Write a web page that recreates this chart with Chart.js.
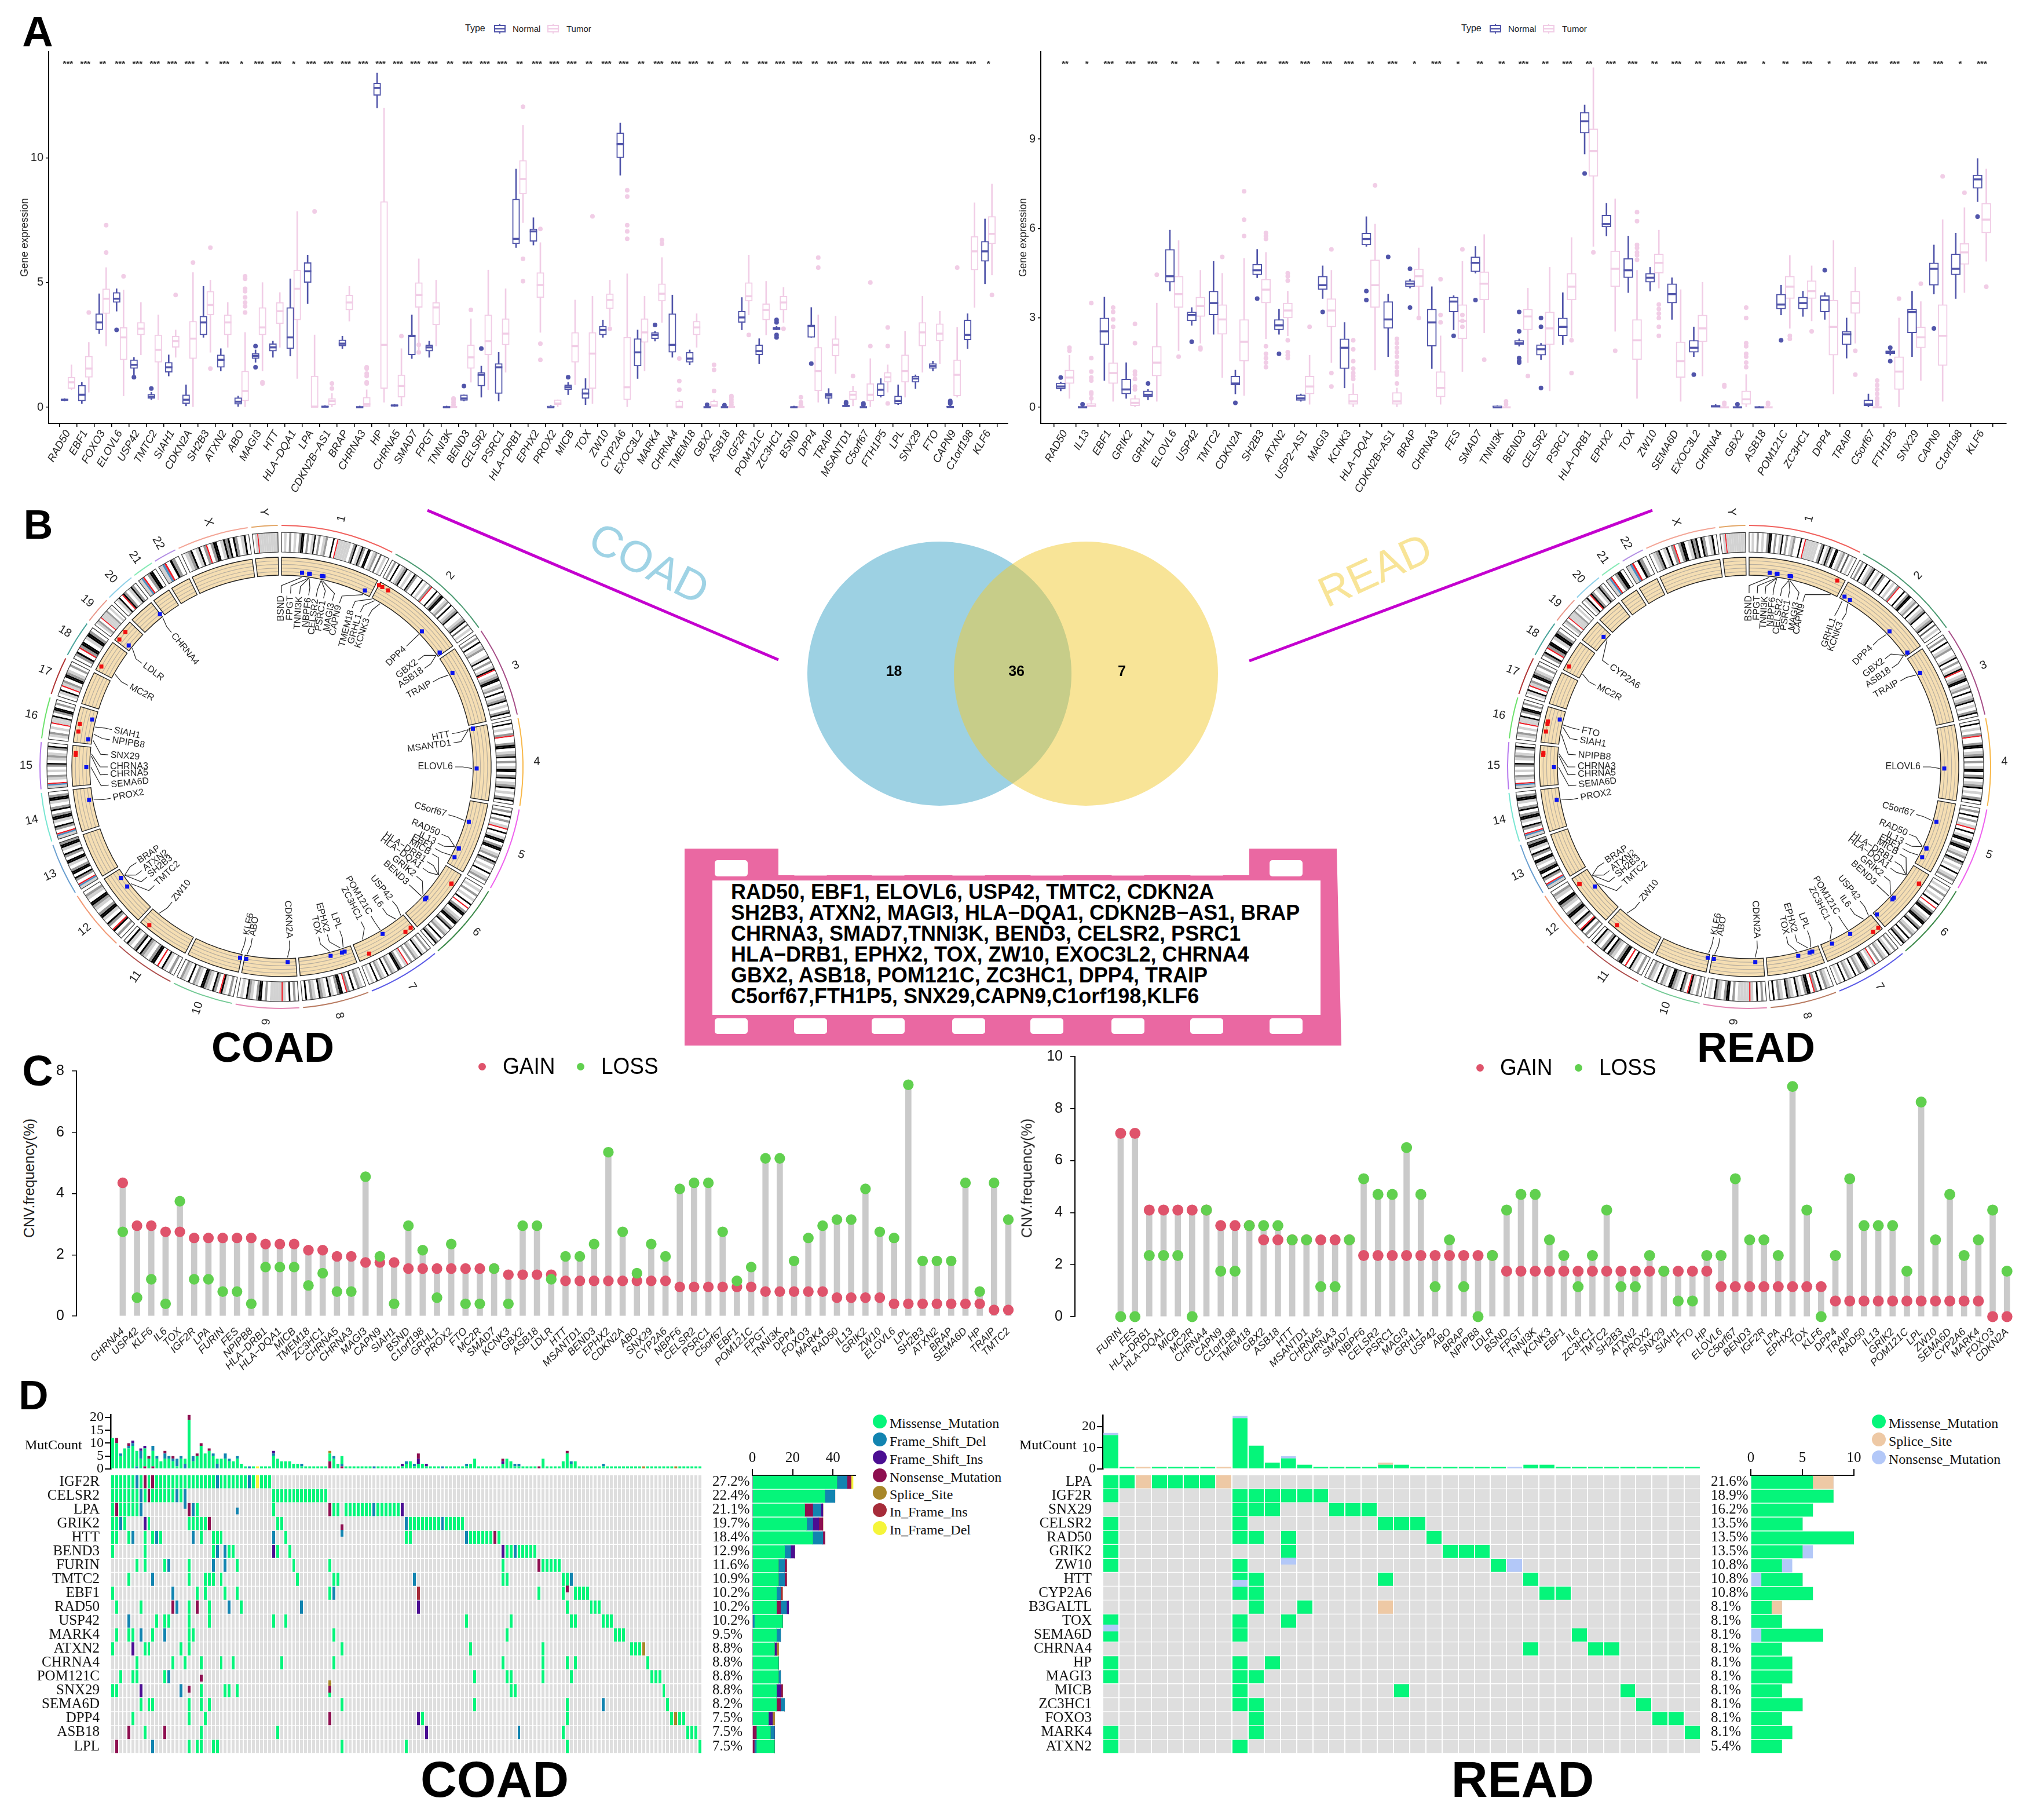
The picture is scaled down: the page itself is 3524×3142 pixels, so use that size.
<!DOCTYPE html>
<html><head><meta charset="utf-8">
<style>
html,body{margin:0;padding:0;background:#fff;}
#page{position:relative;width:3524px;height:3142px;overflow:hidden;background:#fff;}
canvas{position:absolute;}
.t{position:absolute;white-space:pre;line-height:1;}
svg{position:absolute;left:0;top:0;}
</style>
<script src="https://cdn.jsdelivr.net/npm/chart.js@4"></script>
</head><body><div id="page">
<svg width="3524" height="3142" id="deco"></svg>
</div>
<script>
/* ---------- PANEL A DATA : [low, q1, median, q3, high] ---------- */
const coadGenes=['RAD50','EBF1','FOXO3','ELOVL6','USP42','TMTC2','SIAH1','CDKN2A','SH2B3','ATXN2','ABO','MAGI3','HTT','HLA−DQA1','LPA','CDKN2B−AS1','BRAP','CHRNA3','HP','CHRNA5','SMAD7','FPGT','TNNI3K','BEND3','CELSR2','PSRC1','HLA−DRB1','EPHX2','PROX2','MICB','TOX','ZW10','CYP2A6','EXOC3L2','MARK4','CHRNA4','TMEM18','GBX2','ASB18','IGF2R','POM121C','ZC3HC1','BSND','DPP4','TRAIP','MSANTD1','C5orf67','FTH1P5','LPL','SNX29','FTO','CAPN9','C1orf198','KLF6'];
const coadStars=['***','***','**','***','***','***','***','***','*','***','*','***','***','*','***','***','***','***','***','***','***','***','**','***','***','***','**','***','***','***','**','***','***','**','***','***','***','**','**','**','***','***','***','**','***','***','***','***','***','***','***','***','***','*'];
const coadNormal=[[.25,.27,.3,.33,.35],[.15,.25,.5,.88,1],[2.95,3.1,3.4,3.75,4.55],[3.85,4.2,4.35,4.6,4.75],[1.3,1.55,1.7,1.9,2],[.3,.35,.42,.52,.6],[1.25,1.4,1.6,1.8,2.1],[.05,.15,.3,.5,.9],[2.8,2.9,3.4,3.65,4.85],[1.45,1.6,1.9,2.1,2.35],[.03,.12,.22,.38,.45],[1.8,1.95,2.05,2.15,2.3],[2,2.25,2.4,2.55,2.65],[2.05,2.35,2.8,4,5.15],[4.15,5,5.45,5.8,6.1],[0,0,.02,.05,.07],[2.35,2.45,2.55,2.7,2.85],[0,0,0,.03,.05],[12,12.5,12.8,13,13.4],[.03,.05,.07,.1,.12],[1.95,2.1,2.85,2.9,3.7],[2,2.25,2.4,2.5,2.65],[-.02,-.02,0,.03,.05],[.25,.27,.35,.5,.5],[.4,.85,1.3,1.4,1.65],[.25,.55,1.6,1.75,2.2],[6.4,6.55,6.75,8.35,9.55],[6.5,6.65,7.05,7.15,7.6],[0,0,0,.05,.07],[.5,.7,.8,.9,1],[.1,.35,.55,.75,1.15],[2.8,2.9,3.1,3.25,3.5],[9.3,10,10.55,11,11.4],[1.15,1.65,2.2,2.75,3.1],[2.65,2.75,2.9,3,3.05],[2,2.2,2.5,3.75,4.5],[1.7,1.8,1.95,2.2,2.3],[0,0,0,.02,.05],[-.02,0,0,.02,.05],[3.1,3.4,3.6,3.85,4.4],[1.75,2.1,2.25,2.5,2.75],[3.1,3.1,3.15,3.2,3.25],[-.02,-.02,0,.02,.05],[2.8,2.8,3.25,3.3,4],[.15,.35,.47,.55,.75],[0,.02,.05,.08,.1],[0,0,0,.02,.05],[.4,.45,.7,.95,1.15],[.1,.13,.25,.45,.9],[.75,1,1.15,1.25,1.3],[1.45,1.55,1.65,1.75,1.85],[0,0,.01,.04,.08],[2.35,2.7,2.9,3.5,3.75],[4.95,5.85,6.25,6.65,7.55]];
const coadTumor=[[.7,.75,1,1.2,1.7],[.6,1.2,1.55,2.05,2.6],[2.45,3.75,4.35,4.75,5.6],[.45,1.9,2.8,3.2,4.7],[2.1,2.9,3.15,3.4,4.2],[.3,1.8,2.3,2.9,3.7],[2,2.4,2.65,2.85,3.1],[0,1.95,2.75,3.45,5.4],[2.2,3.7,4.1,4.65,5.1],[2.4,2.9,3.4,3.7,4.2],[0,.25,.65,1.45,3],[1.45,2.9,3.2,4,5],[2.4,3.35,3.85,4.2,4.6],[1.15,3.5,4.75,5.5,7.85],[0,0,.02,1.25,2.9],[0,.1,.25,.35,.55],[3.45,3.9,4.2,4.5,4.85],[0,.03,.12,.4,.7],[.2,.75,2.5,8.25,12],[.05,.4,.85,1.3,2.35],[2.3,4,4.5,5,5.95],[2.45,3.3,4,4.2,5.1],[0,0,.01,.03,.06],[1,1.55,2,2.5,3.55],[.7,2.1,2.65,3.7,5.5],[1.4,2.5,2.95,3.55,4.75],[7.4,8.55,9.15,9.9,11.3],[3,4.4,4.9,5.4,6.6],[0,.1,.15,.3,.3],[.9,1.8,2.45,3,4.3],[.15,.75,2.15,3,4.45],[3.25,3.95,4.3,4.55,5.1],[0,.3,.8,2.8,5.35],[1.45,2.6,3,3.55,4.45],[3.4,4.25,4.55,4.95,6],[0,0,0,.25,.3],[2.4,2.9,3.2,3.45,3.75],[0,.02,.07,.25,.3],[0,0,.01,.03,.05],[3.7,4.25,4.45,5,6.1],[2.9,3.5,3.9,4.15,5.05],[3.4,3.9,4.2,4.45,4.8],[0,0,.01,.03,.05],[.2,.65,1.45,2.4,3.7],[1.35,2.05,2.5,2.75,3.65],[.05,.3,.5,.65,.85],[0,.25,.5,.95,1.95],[.6,1,1.2,1.4,1.7],[.4,1,1.45,2.1,3.05],[1.4,2.45,3,3.4,4.45],[1.75,2.65,2.95,3.35,3.85],[.4,.45,1.3,1.9,3.2],[4,5.5,6.25,6.85,8.2],[5.3,6.55,6.95,7.65,8.95]];
const coadNormalOut={3:[3.1],4:[1.2],5:[.75],11:[2.45,1.6],23:[.85],24:[2.35],29:[1.2],34:[3.3],37:[.1],38:[.08],41:[2.8,2.9,3.4,3.5],43:[1.75],45:[.15,.2],46:[.1,.15],51:[.15,.2,.25]};
const coadTumorOut={1:[3.8],2:[6.2,7.3],3:[5.25],6:[4.5],7:[5.8],8:[6.4,1.55],10:[3.8,4.05,4.2,4.4,4.65,4.75,5.15,5.25],11:[.95,1],14:[7.85],15:[.75,.95],17:[.95,1,1.25,1.35,1.55,1.6],19:[2.85],20:[2.2,2.5],22:[.1,.2,.3,.35],23:[3.9],26:[12.05,5.95,5.05],27:[7.15,2.55,1.9],30:[7.65],31:[3.15],32:[6.75,7.05,7.3,8.45,8.7],34:[6.55,6.7],35:[.7,1.05,1.95],37:[.65,1.5,1.7],38:[.1,.2,.3,.4,.45],39:[2.9],41:[3.15],42:[.1,.2,.4],43:[5.6,6],45:[1.25],46:[2.45,5],47:[.15,2.45,3.2],51:[5.6],53:[4.5]};

const readGenes=['RAD50','IL13','EBF1','GRIK2','GRHL1','ELOVL6','USP42','TMTC2','CDKN2A','SH2B3','ATXN2','USP2−AS1','MAGI3','KCNK3','HLA−DQA1','CDKN2B−AS1','BRAP','CHRNA3','FES','SMAD7','TNNI3K','BEND3','CELSR2','PSRC1','HLA−DRB1','EPHX2','TOX','ZW10','SEMA6D','EXOC3L2','CHRNA4','GBX2','ASB18','POM121C','ZC3HC1','DPP4','TRAIP','C5orf67','FTH1P5','SNX29','CAPN9','C1orf198','KLF6'];
const readStars=['**','*','***','***','***','**','**','*','***','***','***','***','***','***','**','***','*','***','*','**','**','***','**','***','**','***','***','**','***','**','***','***','*','**','***','*','***','***','***','**','***','*','***'];
const readNormal=[[.55,.62,.7,.82,.85],[0,0,0,.03,.05],[.9,2.1,2.55,3,3.7],[.3,.45,.6,.95,1.5],[.25,.35,.42,.55,.6],[3.9,4.2,4.4,5.3,5.95],[2.75,2.9,3.1,3.2,3.35],[2.45,3.1,3.5,3.9,4.9],[.45,.75,.8,1.05,1.25],[4.35,4.45,4.6,4.8,5.3],[2.45,2.6,2.75,2.95,3.3],[.2,.23,.3,.42,.45],[3.65,3.95,4.1,4.4,4.75],[.65,1.3,2,2.3,2.85],[5.4,5.45,5.65,5.85,6.4],[1.7,2.65,2.95,3.55,3.8],[4,4.05,4.15,4.25,4.3],[1.3,2.05,2.85,3.3,4.05],[2.6,3.2,3.55,3.7,3.75],[4.5,4.55,4.85,5.05,5.4],[0,0,0,.05,.06],[2.05,2.1,2.15,2.25,2.3],[1.6,1.75,1.95,2.1,2.15],[2.1,2.4,2.7,3,3.85],[8.5,9.2,9.6,9.9,10.15],[5.75,6.05,6.15,6.45,6.85],[3.85,4.35,4.6,5,5.75],[3.9,4.2,4.35,4.5,4.7],[2.95,3.5,3.8,4.15,4.35],[1.7,1.85,2,2.25,2.7],[0,.02,.03,.07,.1],[0,0,0,.02,.05],[0,0,0,.02,.03],[3.1,3.3,3.45,3.8,4.1],[3.05,3.3,3.5,3.7,3.9],[2.95,3.2,3.6,3.75,3.85],[1.65,2.1,2.45,2.55,3],[0,.05,.1,.25,.45],[1.75,1.8,1.85,1.9,1.95],[1.7,2.5,3.2,3.3,3.9],[3.8,4.1,4.65,4.85,5.45],[3.65,4.45,4.65,5.15,5.85],[6.9,7.35,7.65,7.8,8.35]];
const readTumor=[[.3,.8,1,1.25,1.75],[0,0,.05,.13,.25],[.2,.8,1.15,1.5,2.6],[0,.05,.15,.3,.4],[.2,1.05,1.5,2.05,3.5],[1.9,3.35,3.8,4.4,5.6],[2.15,3.05,3.4,3.7,4.6],[1,2.45,2.95,3.45,4.5],[.4,1.55,2.2,2.95,5],[2.3,3.5,3.95,4.3,5.2],[2.4,3,3.25,3.5,3.9],[.1,.45,.7,1.05,1.75],[1.5,2.7,3.25,3.65,4.6],[0,.1,.2,.45,.8],[1.25,3.35,4.1,4.95,6.15],[0,.1,.2,.5,.65],[3.05,4.05,4.4,4.65,5.35],[.1,.35,.65,1.2,2.4],[1.2,2.3,2.9,3.45,4.9],[2.5,3.6,4.15,4.55,5.8],[0,0,0,.02,.03],[1.5,2.6,3.05,3.3,4],[.55,2.1,2.65,3.2,4.7],[2.35,3.6,4.05,4.5,5.7],[5.4,7.75,8.6,9.35,11.4],[2.55,4.05,4.65,5.25,7],[.3,1.6,2.25,2.95,4.6],[4,4.5,4.85,5.15,5.95],[.2,1,1.55,2.2,3.95],[1.05,2.2,2.65,3.1,4.2],[0,0,0,.02,.02],[0,.1,.27,.55,1.1],[0,0,0,.02,.03],[2.65,3.65,4.05,4.4,5.1],[2.9,3.65,3.9,4.25,4.75],[.45,1.75,2.7,3.6,5.6],[2.15,3.15,3.5,3.9,4.7],[0,0,0,.02,.05],[0,.6,1.2,1.7,3],[.9,2,2.35,2.7,3.55],[.2,1.4,2.4,3.45,6.3],[3.85,4.8,5.2,5.5,6.7],[4.9,5.85,6.3,6.85,8]];
const readNormalOut={0:[1],1:[.1],4:[.8],6:[2.2],8:[.15],9:[3.65],10:[1.8],12:[3.2],14:[3.6,3.9],15:[5.05],16:[3.35,4.65],18:[2.4],19:[3.6],21:[1.5,1.55,1.65,2.55,3.2],22:[.65,2.7,3],24:[7.85],29:[1.1],31:[.1],33:[2.25],35:[4.6],38:[1.55,2],40:[2.65],42:[6.4]};
const readTumorOut={0:[1.9,2],1:[.3,.45,.5,.9,1,1.2,1.65,3.5],2:[2.7,2.95,3.2,3.35],3:[.6,.7,.95,1.1,1.2,2.15,2.8],4:[4.45],5:[1.7],6:[1.95,2],7:[5.05],8:[5.75,6.3,7.25],9:[1.35,1.5,1.65,1.8,2.05,5.65,5.75,5.85],10:[1.65,1.75,1.85,2.25,4.25,4.4,4.5],11:[2.7],12:[.7,1.15,5.3],13:[.95,1.05,1.15,1.3,1.55,1.95,2.25],14:[7.45],15:[.8,1.1,1.2,1.35,1.5,1.7,1.85,2,2.15,2.3],16:[3],17:[2.85,3.1,4.3],18:[2.7,2.9,3.1,5.3],19:[1.6],20:[.1,.2],21:[1.05],23:[1.15,2.25],24:[5.2],25:[1.9],26:[4.95,5.1,5.2,5.35,5.45,6.25,6.55],27:[2.4,2.7,3,3.15,3.3,3.45],30:[.1,.15,.7,.75],31:[1.35,1.5,1.7,1.8,2.05,2.15,3,3.35],32:[.1,.15],33:[2.3,2.4],34:[2.55],36:[1.1,1.9],37:[.1,.2,.3,.45,.6,.75,.9],38:[3.65],39:[4.15],40:[7.75],41:[7.2],42:[4.05]};

/* ---------- PANEL C DATA ---------- */
const cnvCoadGenes=['CHRNA4','USP42','KLF6','IL6','TOX','IGF2R','LPA','FURIN','FES','NPIPB8','HLA−DRB1','HLA−DQA1','MICB','TMEM18','ZC3HC1','CHRNA5','CHRNA3','MAGI3','CAPN9','SIAH1','BSND','C1orf198','GRHL1','PROX2','FTO','MC2R','SMAD7','KCNK3','GBX2','ASB18','LDLR','HTT','MSANTD1','BEND3','EPHX2','CDKN2A','ABO','SNX29','CYP2A6','NBPF6','CELSR2','PSRC1','C5orf67','EBF1','POM121C','FPGT','TNNI3K','DPP4','FOXO3','MARK4','RAD50','IL13','GRIK2','ZW10','ELOVL6','LPL','SH2B3','ATXN2','BRAP','SEMA6D','HP','TRAIP','TMTC2'];
const cnvCoadGain=[4.35,2.95,2.95,2.75,2.75,2.55,2.55,2.55,2.55,2.55,2.35,2.35,2.35,2.15,2.15,1.95,1.95,1.75,1.75,1.75,1.55,1.55,1.55,1.55,1.55,1.55,1.55,1.35,1.35,1.35,1.35,1.15,1.15,1.15,1.15,1.15,1.15,1.15,1.15,.95,.95,.95,.95,.95,.95,.8,.8,.8,.8,.8,.6,.6,.6,.6,.4,.4,.4,.4,.4,.4,.4,.2,.2];
const cnvCoadLoss=[2.75,.6,1.2,.4,3.75,1.2,1.2,.8,.8,.4,1.6,1.6,1.6,1,1.4,.8,.8,4.55,1.95,.4,2.95,2.15,.6,2.35,.4,.4,1.55,.4,2.95,2.95,1.2,1.95,1.95,2.35,5.35,2.75,1.4,2.35,1.95,4.15,4.35,4.35,2.75,1.15,1.6,5.15,5.15,1.8,2.55,2.95,3.15,3.15,4.15,2.75,2.55,7.55,1.8,1.8,1.8,4.35,.8,4.35,3.15];
const cnvReadGenes=['FURIN','FES','HLA−DRB1','HLA−DQA1','MICB','MC2R','CHRNA4','CAPN9','C1orf198','TMEM18','GBX2','ASB18','HTT','MSANTD1','CHRNA5','CHRNA3','SMAD7','NBPF6','CELSR2','PSRC1','MAGI3','GRHL1','USP42','ABO','BRAP','NPIPB8','LDLR','BSND','FPGT','TNNI3K','KCNK3','EBF1','IL6','ZC3HC1','TMTC2','SH2B3','ATXN2','PROX2','SNX29','SIAH1','FTO','HP','ELOVL6','C5orf67','BEND3','IGF2R','LPA','EPHX2','TOX','KLF6','DPP4','TRAIP','RAD50','IL13','GRIK2','POM121C','LPL','ZW10','SEMA6D','CYP2A6','MARK4','FOXO3','CDKN2A'];
const cnvReadGain=[7.05,7.05,4.1,4.1,4.1,4.1,4.1,3.5,3.5,3.5,2.95,2.95,2.95,2.95,2.95,2.95,2.95,2.35,2.35,2.35,2.35,2.35,2.35,2.35,2.35,2.35,2.35,1.75,1.75,1.75,1.75,1.75,1.75,1.75,1.75,1.75,1.75,1.75,1.75,1.75,1.75,1.75,1.15,1.15,1.15,1.15,1.15,1.15,1.15,1.15,.6,.6,.6,.6,.6,.6,.6,.6,.6,.6,.6,0,0];
const cnvReadLoss=[0,0,2.35,2.35,2.35,0,4.1,1.75,1.75,3.5,3.5,3.5,2.95,2.95,1.15,1.15,2.95,5.3,4.7,4.7,6.5,4.7,1.15,2.95,1.15,0,2.35,4.1,4.7,4.7,2.95,2.35,1.15,2.35,4.1,1.15,1.15,2.35,1.75,.6,.6,2.35,2.35,5.3,2.95,2.95,2.35,8.85,4.1,0,2.35,5.3,3.5,3.5,3.5,1.75,8.25,2.95,4.7,2.35,2.95,4.1,1.75];

/* ---------- PANEL D DATA ---------- */
const onCoadGenes=['IGF2R','CELSR2','LPA','GRIK2','HTT','BEND3','FURIN','TMTC2','EBF1','RAD50','USP42','MARK4','ATXN2','CHRNA4','POM121C','SNX29','SEMA6D','DPP4','ASB18','LPL'];
const onCoadPct=['27.2%','22.4%','21.1%','19.7%','18.4%','12.9%','11.6%','10.9%','10.2%','10.2%','10.2%','9.5%','8.8%','8.8%','8.8%','8.8%','8.2%','7.5%','7.5%','7.5%'];
const coadMissense=['0-5,7,9,11-25,27-33,35,37-39','0-6,8,10-15,17,40-53','0,2-6,21,40,55,56,58-64,66-71','0,1,3,9,19-23,41,42,74-81,83-87','0,1,4,8,10,12,22,25-27,43,73,74,89-94,96','0,8,25,29,30,41,44,98,99,101-105','6,8,13,19,31,45,54,97,107-111','4,19,23-25,27,46,55,56,97,98,112,113','0,21,23,28,31,54,106,112,115-118','1,7,19,24,32,113,119-121','11,13,14,19,24,40,43,88,99,114,115,122-124','1,4,5,10,19,20,55,98,125-127','0,8,9,17,19,57,89,107,129-131','6,15,18,22,27,30,42,55,97,107,113,115,133','2,5,6,13,90,98,99,107,114,134-136','0,1,22,28,29,31,54,99,100,137','7,9,10,19,22,24,57,90,113,138','5,19,23,77,113,139,141,142','8,22,41,112,143-145','19,21,22,25,26,57,73,113,146'];
const coadFSD=['6,26,34','7,16,18','7,20,65','2,73,82','5,11,20,40,88','26,28,100','14,25,28','10,75,114','15,55','16,29,47','4','7,13','','','14','17','122','','101','10'];
const coadFSI=['','','72','8','','40,97','','','','76','','','5','','','7','','76','78',''];
const coadNonsense=['8,10','9','1,19,54','24','95','','106','','','15,21','','','','','','','','54','4,13','1'];
const coadSplice=['','','','','','','','','','','','','132','','','','','140','',''];
const coadInIns=['','','','','','','','','76','','','','','','','','','','',''];
const coadInDel=['36','','','','','','','','','','','','','','','','','','',''];
const coadHalfCells=[[0,18,-.25,'F'],[0,31,.25,'F'],[2,57,-.25,'N'],[2,57,.25,'F'],[7,113,.25,'N'],[15,22,.25,'N'],[16,19,.25,'N'],[16,54,-.25,'S'],[16,54,.25,'N']];
const coadTopMissense=[12,10,5,8,8,9,6,4,7,4, 6,4,3,4,4,3,1,4,2,19, 3,5,9,6,7,5,2,4,4,3, 3,4,2,1,0,1,0,1,1,1, 5,4,3,3,3,2,2,1,1,1, 1,1,1,1,3,4,2,3,1,1, 1,1,1,1,1,0,1,1,1,1, 1,1,1,2,3,1,2,2,1,1, 1,1,0,1,1,1,1,1,1,2, 4,1,1,1,1,1,1,2,4,3, 1,1,1,1,1,1,0,4,1,1, 1,1,3,6,2,3,1,1,1,1, 1,1,1,1,1,1,1,1,1,1, 1,1,0,1,1,1,1,1,1,1, 0,1,1,1,1,1,1];
const coadTopBottomN={8:1,10:1,54:3,57:1};
const coadTopBottomF={6:1,18:2,26:2,57:1};
const coadTopFSD={2:1,4:1,5:1,7:3,10:2,11:1,13:2,14:1,15:1,16:3,17:1,20:2,25:1,28:2,29:1,31:1,34:1,40:1,47:1,55:1,65:1,73:1,75:1,82:1,88:1,100:1,101:1,114:1,122:1};
const coadTopFSI={5:1,7:1,8:1,40:1,72:1,76:2,78:1,97:1};
const coadTopNonsense={1:2,4:1,9:1,13:1,15:1,19:2,21:1,22:1,24:1,76:2,97:1,106:1,113:1};
const coadTopSplice={54:1,132:1,140:1};
const coadTopInDel={36:1};
/* side bars: order of stacking follows these arrays */
const coadSideEarlyN=[0,0,0,0,0,0,0,0,0,0,0,0,0,0,0,0,0,0,2,1];
const coadSideEarlyF=[0,0,0,0,0,0,0,0,0,0,1,0,0,0,0,0,0,0,0,1];
const coadSideM=[42,36,26,27,30,16,13,13,12,12,14,12,11,13,13,12,12,8,7,9];
const coadSideMidN=[0,0,4,0,0,0,0,0,0,2,0,0,0,0,0,0,2,0,0,0];
const coadSideF=[5,5,4,3,5,3,3,3,2,3,0,2,0,0,1,0,2,0,2,0];
const coadSideI=[0,0,1,3,0,2,0,0,0,1,0,0,1,0,0,2,0,2,0,0];
const coadSideN=[2,0,0,2,1,0,1,1,0,0,0,0,0,0,0,1,0,0,0,0];
const coadSideS=[0,0,0,0,0,0,0,0,0,0,0,0,1,0,0,0,0,1,0,0];
const coadSideIn=[0,0,0,0,0,0,0,0,1,0,0,0,0,0,0,0,0,0,0,0];
const coadSideD=[1,0,0,0,0,0,0,0,0,0,0,0,0,0,0,0,0,0,0,0];

const onReadGenes=['LPA','IGF2R','SNX29','CELSR2','RAD50','GRIK2','ZW10','HTT','CYP2A6','B3GALTL','TOX','SEMA6D','CHRNA4','HP','MAGI3','MICB','ZC3HC1','FOXO3','MARK4','ATXN2'];
const onReadPct=['21.6%','18.9%','16.2%','13.5%','13.5%','13.5%','10.8%','10.8%','10.8%','8.1%','8.1%','8.1%','8.1%','8.1%','8.1%','8.1%','8.1%','8.1%','8.1%','5.4%'];
const readMissense=['0,1,3-6','0,8-13','8-10,14-16','0,8,17-19','0,8,9,11,20','0,11,21-23','0,8,24','8,9,17,26','8,9,27,28','9,12','0,8,11','0,8,29','26,30,31','0,8,10','0,8,9','8,18,32','8,9,33','9,34,35','0,9,36','0,8'];
const readSplice=['2,7','','','','','','','','','17','','','','','','','','','',''];
const readNonsense=['','','','','','','25','','','','','','','','','','','','',''];
const readHalfCells=[[5,11,-.25,'N'],[7,8,-.25,'N'],[11,0,-.25,'N']];
const readTopMissense=[16,1,0,1,1,1,1,0,24,11,3,5,2,1,1,1,1,2,2,1,1,1,1,1,1,0,2,2,1,1,1,1,1,1,1,1,1];
const readTopSplice={2:1,7:1,17:1};
const readTopNonsense={0:1,8:1,11:1,25:1};
const readSideEarlyN=[0,0,0,0,0,0,0,1,0,0,0,1,0,0,0,0,0,0,0,0];
const readSideM=[6,8,6,5,10,5,3,4,6,2,3,6,3,4,4,3,5,3,4,3];
const readSideS=[2,0,0,0,0,0,0,0,0,1,0,0,0,0,0,0,0,0,0,0];
const readSideN=[0,0,0,0,0,1,1,0,0,0,0,0,0,0,0,0,0,0,0,0];

/* ---------- PANEL B DATA ---------- */
const chromNames=['1','2','3','4','5','6','7','8','9','10','11','12','13','14','15','16','17','18','19','20','21','22','X','Y'];
const chromSizes=[248,242,198,190,181,170,159,145,138,133,135,133,114,107,102,90,83,80,58,64,46,50,156,57];
const chromColors=['#F0605C','#4B9A72','#A54C86','#F8B84A','#EE62EE','#3C8A4A','#5A5AE6','#B87A60','#E487B4','#72C994','#AD4B49','#F29B77','#6A9FD0','#78E6D2','#B678EE','#6CE26C','#B03434','#47A39A','#E9978A','#8FD0E8','#86EAB6','#B490E4','#F3A596','#E3A768'];
const chromBands=[
'wlwgwlwgkkwgwlkwgwlgwwkwrlllllwgkwlkgwkkwlgwdwlw',
'wgwkwlgkwlwkgwwkwlwgrwwkwgkkwlgwkwlgkwwlgkwdwlw',
'wgwkwlgwwlkwgwlkrwlgkkwlgwkwlgkwlwgkw',
'wkwlwgrwwgkkwlgkwgwlkkwgkwlgkwlwgkw',
'wgwkwgwlrwkwlkkwgkkwlgwkgwlwkwlgw',
'wlwgwlwkwrwgkkwlgkkwgkwlgwkwgkw',
'wgwlkwlgwgwrlwgkkwlgwkwlgwkwlw',
'wlgwkwgrwkkgwlkwlgkwlgwkw',
'wgwkwlrllllwgwkkgwlgkwlw',
'wgwlkrwgkwlgkkwlgwkwlgw',
'wgwlkwrwkkgwlgkwkgwlkw',
'wgwkrwgkwlkkgwlgkkwlgw',
'lbrwgkwkkgwlkkwgkwlkkg',
'lbrwgkwlkkgwkgwlkkgw',
'lbrwlgwlwgkwlglwgkw',
'wlgwlwrllkwgkkwgw',
'wlkwrlgwkkglwgw',
'wgkwrgkkwlkkgw',
'wlgwrlllgwlw',
'wlkwrkgwlkgw',
'lbrwgkkw',
'lbrwkgw',
'wlgkwlkwgrwgkkwlkgkwkgwlkw',
'wlrllllllll'];
const bandColors={w:'#ffffff',l:'#d2d2d2',g:'#9a9a9a',d:'#5c5c5c',k:'#000000',r:'#ee1c25',b:'#4f8fc0'};
const bandWidths={w:1.2,l:1.2,g:1,d:.8,k:.7,r:.55,b:.7};
/* [chromosome, Mb, G=gain/L=loss, label, label angle in degrees] */
const coadMarkers=[['1',55,'L','BSND',0],['1',74,'L','FPGT',3],['1',75,'L','TNNI3K',6],['1',76,'L','NBPF6',9],['1',109,'L','CELSR2',11.5],['1',109.5,'L','PSRC1',14],['1',113,'L','MAGI3',17],['1',230,'L','CAPN9',19.5],['2',.7,'G','TMEM18',24],['2',9.9,'G','GRHL1',27],['2',26.7,'G','KCNK3',30],['2',162,'L','DPP4',46],['2',236,'L','GBX2',52],['2',236.3,'L','ASB18',55.4],['3',49.8,'L','TRAIP',60.7],['4',3,'L','HTT',79],['4',3.2,'L','MSANTD1',82],['4',110,'L','ELOVL6',90],['5',56,'L','C5orf67',106],['5',132,'L','RAD50',112.8],['5',132.5,'L','IL13',116],['5',158,'L','EBF1',118],['6',31.5,'G','MICB',120],['6',32.5,'G','HLA−DRB1',123],['6',32.6,'G','HLA−DQA1',125.6],['6',101,'L','GRIK2',129],['6',107,'L','BEND3',132.7],['7',6,'G','USP42',140.4],['7',22.7,'G','IL6',144.4],['7',75,'L','POM121C',149],['7',130,'G','ZC3HC1',152.8],['8',20,'L','LPL',160.4],['8',27.5,'L','EPHX2',164.7],['8',59,'L','TOX',167.6],['9',22,'L','CDKN2A',177.4],['9',133,'L','ABO',189.7],['10',3.8,'L','KLF6',191.8],['11',113.7,'G','ZW10',219],['12',83,'L','TMTC2',227],['12',111.4,'L','SH2B3',230.7],['12',111.5,'L','ATXN2',233.4],['12',111.6,'L','BRAP',236.6],['14',74.8,'L','PROX2',259.6],['15',47.5,'L','SEMA6D',264],['15',78.5,'G','CHRNA5',267.5],['15',84,'G','CHRNA3',270],['16',12,'L','SNX29',274],['16',28,'G','NPIPB8',279],['16',48,'G','SIAH1',282.4],['16',66,'L',null,0],['18',13.9,'G','MC2R',298],['19',11,'L','LDLR',306.6],['19',8,'G',null,0],['19',32,'G',null,0],['20',63,'L','CHRNA4',320.7]];
const readMarkers=[['1',55,'L','BSND',0],['1',74,'L','FPGT',2.7],['1',75,'L','TNNI3K',5.3],['1',76,'L','NBPF6',7.9],['1',109,'L','CELSR2',10.4],['1',109.5,'L','PSRC1',13],['1',113,'L','MAGI3',16],['1',230,'G','CAPN9',18],['2',9.9,'L','GRHL1',29.5],['2',26.7,'L','KCNK3',32.3],['2',162,'L','DPP4',45.5],['2',236,'L','GBX2',51.5],['2',236.3,'L','ASB18',55.3],['3',49.8,'L','TRAIP',60.4],['4',110,'L','ELOVL6',90],['5',56,'L','C5orf67',105.9],['5',132,'L','RAD50',112.8],['5',132.5,'L','IL13',116],['5',158,'L','EBF1',118],['6',31.5,'G','MICB',120],['6',32.5,'G','HLA−DRB1',123],['6',32.6,'G','HLA−DQA1',125.6],['6',101,'L','GRIK2',129],['6',107,'L','BEND3',132.7],['6',165,'L',null,0],['7',6,'G','USP42',140.4],['7',22.7,'G','IL6',144.4],['7',75,'L','POM121C',149],['7',130,'L','ZC3HC1',152.8],['8',20,'L','LPL',160.4],['8',27.5,'L','EPHX2',164.7],['8',59,'L','TOX',167.6],['9',22,'L','CDKN2A',177.4],['9',133,'L','ABO',189.7],['10',3.8,'L','KLF6',191.8],['11',113.7,'G','ZW10',219],['12',83,'L','TMTC2',227],['12',111.4,'G','SH2B3',230.7],['12',111.5,'G','ATXN2',233.4],['12',111.6,'G','BRAP',236.6],['14',74.8,'L','PROX2',259.6],['15',47.5,'L','SEMA6D',264],['15',78.5,'G','CHRNA5',267.5],['15',84,'G','CHRNA3',270],['16',28,'G','NPIPB8',274],['16',48,'G','SIAH1',279],['16',53.8,'G','FTO',282.4],['16',66,'L',null,0],['18',13.9,'G','MC2R',298],['19',41,'L','CYP2A6',306]];
/* Venn */
const vennCircles=[{x:0,y:0,r:228},{x:1,y:0,r:228}];
const vennCounts=[{x:-.31,label:'18'},{x:.526,label:'36'},{x:1.245,label:'7'}];
const sharedGenesLines=['RAD50, EBF1, ELOVL6, USP42, TMTC2, CDKN2A','SH2B3, ATXN2, MAGI3, HLA−DQA1, CDKN2B−AS1, BRAP','CHRNA3, SMAD7,TNNI3K, BEND3, CELSR2, PSRC1','HLA−DRB1, EPHX2, TOX, ZW10, EXOC3L2, CHRNA4','GBX2, ASB18, POM121C, ZC3HC1, DPP4, TRAIP','C5orf67,FTH1P5, SNX29,CAPN9,C1orf198,KLF6'];

/* ---------- helpers ---------- */
const SANS="'Liberation Sans'",SERIF="'Liberation Serif'";
const page=document.getElementById('page');
Chart.defaults.animation=false;
Chart.defaults.font.family=SANS;
Chart.defaults.layout.autoPadding=false;
Chart.defaults.plugins.legend.display=false;
Chart.defaults.plugins.tooltip.enabled=false;
function mk(box,cfg){
  const c=document.createElement('canvas');
  c.width=box.W;c.height=box.H;c.style.left=box.L+'px';c.style.top=box.T+'px';
  c.style.width=box.W+'px';c.style.height=box.H+'px';
  page.appendChild(c);
  cfg.options=Object.assign({responsive:false,maintainAspectRatio:false,devicePixelRatio:1,events:[],animation:false},cfg.options||{});
  return new Chart(c.getContext('2d'),cfg);
}
const fixW=w=>s=>{s.width=w;s.paddingLeft=s.paddingRight=s.paddingTop=s.paddingBottom=0;};
const fixH=h=>s=>{s.height=h;s.paddingLeft=s.paddingRight=s.paddingTop=s.paddingBottom=0;};
function T(text,x,y,o={}){
  const d=document.createElement('div');d.className='t';d.textContent=text;
  const a=o.align==='right'?-100:o.align==='left'?0:-50;
  d.style.cssText+=`left:${x}px;top:${y}px;font:${o.weight||'normal'} ${o.size||20}px ${o.family||SANS};color:${o.color||'#000'};transform:translate(${a}%,-50%) rotate(${o.rot||0}deg) scaleY(${o.sy||1});`;
  page.appendChild(d);return d;
}
function dot(x,y,r,c){const d=document.createElement('div');d.style.cssText=`position:absolute;left:${x-r}px;top:${y-r}px;width:${2*r}px;height:${2*r}px;border-radius:50%;background:${c};`;page.appendChild(d);}
function sparse(o,n){return Array.from({length:n},(_,i)=>o[i]||0);}
function expand(s){if(!s)return[];return s.split(',').flatMap(p=>{const[a,b]=p.split('-').map(Number);if(b===undefined)return[a];const r=[];for(let i=a;i<=b;i++)r.push(i);return r;});}

/* ---------- Panel A ---------- */
const NC='#5155AA',TC='#F1CDE6';
function boxChart(box,plot,genes,stars,N,Tm,NO,TO,ymin,ymax,yticks,bw){
  const off=.2;
  const bars=(M,o)=>M.map((v,i)=>({x:i+o,y:[v[1],v[3]]}));
  const whisk=(M,o)=>M.map((v,i)=>({x:i+o,y:[v[0],v[4]]}));
  const med=(M,o)=>M.map((v,i)=>({x:i+o,y:v[2]}));
  const outl=(O,o)=>Object.entries(O).flatMap(([i,a])=>a.map(y=>({x:+i+o,y})));
  const ds=(M,O,o,c,lw)=>[
    {type:'bar',data:whisk(M,o),backgroundColor:c,barThickness:lw,order:8,grouped:false},
    {type:'bar',data:bars(M,o),backgroundColor:'#fff',borderColor:c,borderWidth:2,borderSkipped:false,barThickness:bw,order:6,grouped:false},
    {type:'scatter',data:med(M,o),pointStyle:'line',pointRadius:bw/2,pointBorderColor:c,pointBorderWidth:3.5,order:2,clip:false},
    {type:'scatter',data:outl(O,o),pointStyle:'circle',pointRadius:4,pointBackgroundColor:c,pointBorderWidth:0,order:3,clip:false}
  ];
  const starPlugin={id:'stars',afterDraw(ch){
    const c=ch.ctx,x=ch.scales.x;c.save();c.fillStyle='#333';c.font="bold 15px "+SANS;c.textAlign='center';c.textBaseline='middle';
    stars.forEach((s,i)=>c.fillText(s,x.getPixelForValue(i),41));c.restore();}};
  mk(box,{type:'bar',data:{datasets:[...ds(N,NO,-off,NC,2),...ds(Tm,TO,off,TC,2)]},plugins:[starPlugin],options:{
    layout:{padding:{top:plot.y0-box.T,right:box.L+box.W-plot.x1,left:0,bottom:0}},
    scales:{
      x:{type:'linear',min:-.6,max:genes.length-.4,afterFit:fixH(box.T+box.H-plot.y1),
        afterBuildTicks:s=>{s.ticks=genes.map((_,i)=>({value:i}));},
        grid:{display:true,drawOnChartArea:false,tickLength:6,color:'#000',lineWidth:1.5},border:{color:'#000',width:2},
        ticks:{autoSkip:false,minRotation:60,maxRotation:60,padding:2,color:'#222',font:{size:18.5,style:'italic'},callback:v=>genes[v]}},
      y:{min:ymin,max:ymax,afterFit:fixW(plot.x0-box.L),
        afterBuildTicks:s=>{s.ticks=yticks.map(v=>({value:v}));},
        grid:{display:true,drawOnChartArea:false,tickLength:5,color:'#000',lineWidth:1.5},border:{color:'#000',width:2},
        title:{display:true,text:'Gene expression',color:'#222',font:{size:18},padding:{top:4,bottom:0}},
        ticks:{color:'#222',font:{size:20},padding:4}}
    }}});
}
boxChart({L:28,T:70,W:1725,H:795},{x0:84,x1:1740,y0:89,y1:731},coadGenes,coadStars,coadNormal,coadTumor,coadNormalOut,coadTumorOut,-.65,14.26,[0,5,10],12.5);
boxChart({L:1752,T:70,W:1741,H:795},{x0:1797,x1:3464,y0:89,y1:731},readGenes,readStars,readNormal,readTumor,readNormalOut,readTumorOut,-.54,11.94,[0,3,6,9],16);
function glyph(x,c){return `<line x1="${x+10}" y1="41" x2="${x+10}" y2="58" stroke="${c}" stroke-width="2"/><rect x="${x+1}" y="44" width="18" height="11" fill="#fff" stroke="${c}" stroke-width="2"/><line x1="${x+1}" y1="49.5" x2="${x+19}" y2="49.5" stroke="${c}" stroke-width="2.5"/>`;}
T('Type',803,49,{size:16,align:'left',color:'#222'});T('Normal',885,49,{size:15,align:'left',color:'#222'});T('Tumor',978,49,{size:15,align:'left',color:'#222'});
T('Type',2523,49,{size:16,align:'left',color:'#222'});T('Normal',2604,49,{size:15,align:'left',color:'#222'});T('Tumor',2697,49,{size:15,align:'left',color:'#222'});

/* ---------- deco svg: lines, film ---------- */
let svg=glyph(853,NC)+glyph(945,TC)+glyph(2572,NC)+glyph(2664,TC);
svg+=`<line x1="738" y1="881" x2="1344" y2="1139" stroke="#C400CF" stroke-width="5"/><line x1="2157" y1="1141" x2="2853" y2="881" stroke="#C400CF" stroke-width="5"/>`;
svg+=`<path d="M1182 1465H1344V1511H2157V1465H2308L2316 1805H1182Z" fill="#EA68A2"/><rect x="1230" y="1520" width="1050" height="232" fill="#fff"/>`;
[1262,1399,1533,1672,1807,1947,2083,2220].forEach(x=>{svg+=`<rect x="${x-28}" y="1758" width="57" height="27" rx="5" fill="#fff"/>`;if(x!==1262&&x!==2220)svg+=`<rect x="${x-28}" y="1508" width="57" height="3.5" rx="1" fill="#fff"/>`;});
[1262,2220].forEach(x=>{svg+=`<rect x="${x-28}" y="1485" width="57" height="28" rx="5" fill="#fff"/>`;});
document.getElementById('deco').innerHTML=svg;
[1540,1576,1612,1648,1684,1720].forEach((y,i)=>T(sharedGenesLines[i],1262,y,{size:36,weight:'bold',align:'left'}));

/* ---------- Venn ---------- */
const vennPlugin={id:'vennCounts',afterDraw(ch){const c=ch.ctx;c.save();c.fillStyle='#000';c.font="bold 25px "+SANS;c.textAlign='center';c.textBaseline='middle';
  vennCounts.forEach(v=>c.fillText(v.label,ch.scales.x.getPixelForValue(v.x),ch.scales.y.getPixelForValue(0)-3));c.restore();}};
mk({L:1380,T:918,W:750,H:490},{type:'bubble',data:{datasets:[
  {data:[vennCircles[1]],backgroundColor:'rgba(241,201,47,.5)',borderWidth:0,order:0,clip:false},
  {data:[vennCircles[0]],backgroundColor:'#9DD1E3',borderWidth:0,order:1,clip:false}]},plugins:[vennPlugin],
  options:{layout:{padding:0,autoPadding:false},scales:{x:{display:false,min:-.9565,max:2.008},y:{display:false,min:-1,max:1}}}});
T('COAD',1121,972,{size:76,color:'#9FD3E5',rot:27});
T('READ',2374,984,{size:74,color:'#F8E497',rot:-24.5});

/* ---------- Circos (doughnut rings) ---------- */
function circos(cx,cy,markers){
  const gap=8,R=418,pad=46,n=chromSizes.length;
  const seq=(colorFor)=>{const d=[],b=[];chromSizes.forEach((s,i)=>{d.push(s,gap);b.push(colorFor(i),'rgba(0,0,0,0)');});return{data:d,backgroundColor:b,borderWidth:0,};};
  const ideo={data:[],backgroundColor:[],borderWidth:0};
  chromSizes.forEach((s,i)=>{const p=chromBands[i];let tot=0;for(const ch of p)tot+=bandWidths[ch];for(const ch of p){ideo.data.push(s*bandWidths[ch]/tot);ideo.backgroundColor.push(bandColors[ch]);}ideo.data.push(gap);ideo.backgroundColor.push('rgba(0,0,0,0)');});
  const spacer=w=>({data:[1],backgroundColor:['rgba(0,0,0,0)'],borderWidth:0,weight:w});
  const arcs=Object.assign(seq(i=>chromColors[i]),{weight:2});
  const tan=Object.assign(seq(()=>'#F5DEB3'),{weight:31});
  ideo.weight=34;
  const plugin={id:'circosMarks',afterDatasetsDraw(ch){
    const c=ch.ctx,t=ch.getDatasetMeta(4).data,id=ch.getDatasetMeta(2).data[0];
    const x=t[0].x,y=t[0].y,ri=t[0].innerRadius,ro=t[0].outerRadius;
    c.save();
    for(let i=0;i<n;i++){const a=t[2*i];
      for(let k=1;k<5;k++){c.beginPath();c.arc(x,y,ri+(ro-ri)*k/5,a.startAngle,a.endAngle);c.strokeStyle='#B8AF9F';c.lineWidth=1.2;c.stroke();}
      c.beginPath();c.arc(x,y,ro,a.startAngle,a.endAngle);c.arc(x,y,ri,a.endAngle,a.startAngle,true);c.closePath();c.strokeStyle='#222';c.lineWidth=1.4;c.stroke();
      c.beginPath();c.arc(x,y,id.outerRadius,a.startAngle,a.endAngle);c.arc(x,y,id.innerRadius,a.endAngle,a.startAngle,true);c.closePath();c.strokeStyle='#333';c.lineWidth=1.2;c.stroke();
      /* chromosome name */
      const m=(a.startAngle+a.endAngle)/2,lr=R+23;
      const deg=((m+Math.PI/2)*180/Math.PI+360)%360;
      c.save();c.translate(x+lr*Math.cos(m),y+lr*Math.sin(m));c.rotate(deg<180?m:m+Math.PI);c.fillStyle='#222';c.font="20px "+SANS;c.textAlign='center';c.textBaseline='middle';c.fillText(chromNames[i],0,0);c.restore();
    }
    c.font="16px "+SANS;c.textBaseline='middle';
    markers.forEach(([chr,mb,type,label,ang])=>{
      const i=chromNames.indexOf(chr),a=t[2*i],th=a.startAngle+(mb/chromSizes[i])*(a.endAngle-a.startAngle);
      const rm=type==='G'?ro-6:ri+6,px=x+rm*Math.cos(th),py=y+rm*Math.sin(th);
      if(label){
        const al=ang*Math.PI/180-Math.PI/2;
        c.beginPath();c.moveTo(x+(ri-2)*Math.cos(th),y+(ri-2)*Math.sin(th));
        c.lineTo(x+(ri-18)*Math.cos(al),y+(ri-18)*Math.sin(al));
        c.lineTo(x+(ri-31)*Math.cos(al),y+(ri-31)*Math.sin(al));
        c.strokeStyle='#222';c.lineWidth=1.2;c.stroke();
        c.save();c.translate(x+(ri-35)*Math.cos(al),y+(ri-35)*Math.sin(al));
        const tilt=ang<40?ang*.6:ang, rot=tilt*Math.PI/180-Math.PI/2;
        if(ang<180){c.rotate(rot);c.textAlign='right';}else{c.rotate(rot+Math.PI);c.textAlign='left';}
        c.fillStyle='#222';c.fillText(label,0,0);c.restore();
      }
      c.fillStyle=type==='G'?'#F01010':'#0A14EE';c.fillRect(px-3.5,py-3.5,7,7);
    });
    c.restore();
  }};
  mk({L:cx-R-pad,T:cy-R-pad,W:2*(R+pad),H:2*(R+pad)},{type:'doughnut',data:{datasets:[arcs,spacer(11),ideo,spacer(9),tan]},plugins:[plugin],
    options:{cutout:331/418*100+'%',layout:{padding:pad},radius:'100%',spacing:0}});
}
circos(486,1324,coadMarkers);
circos(3020,1324,readMarkers);

/* ---------- Panel C ---------- */
const GAIN='#DF536B',LOSS='#61D04F';
function lolli(box,plot,genes,gain,loss,first,step,ymax,yticks,ptR){
  const xmin=(plot.x0-first)/step,xmax=(plot.x1-first)/step;
  mk(box,{type:'bar',data:{datasets:[
    {type:'scatter',data:loss.map((y,x)=>({x,y})),pointRadius:ptR,pointBackgroundColor:LOSS,pointBorderWidth:0,order:1,clip:false},
    {type:'scatter',data:gain.map((y,x)=>({x,y})),pointRadius:ptR,pointBackgroundColor:GAIN,pointBorderWidth:0,order:2,clip:false},
    {type:'bar',data:genes.map((_,x)=>({x,y:[0,Math.max(gain[x],loss[x])]})),backgroundColor:'#CACACA',barThickness:10,order:3,grouped:false}
  ]},options:{
    layout:{padding:{top:plot.y0-box.T,right:box.L+box.W-plot.x1,left:0,bottom:0}},
    scales:{
      x:{type:'linear',min:xmin,max:xmax,afterFit:fixH(box.T+box.H-plot.y1),
        afterBuildTicks:s=>{s.ticks=genes.map((_,i)=>({value:i}));},
        grid:{display:false},border:{display:false},
        ticks:{autoSkip:false,minRotation:45,maxRotation:45,padding:8,color:'#222',font:{size:18,style:'italic'},callback:v=>genes[v]}},
      y:{min:0,max:ymax,afterFit:fixW(plot.x0-box.L),
        afterBuildTicks:s=>{s.ticks=yticks.map(v=>({value:v}));},
        grid:{display:true,drawOnChartArea:false,tickLength:8,color:'#000',lineWidth:1.5},border:{color:'#000',width:2},
        ticks:{color:'#111',font:{size:25},padding:13}}
    }}});
}
lolli({L:70,T:1825,W:1720,H:560},{x0:132,x1:1768,y0:1849,y1:2272},cnvCoadGenes,cnvCoadGain,cnvCoadLoss,200,25.06,8,[0,2,4,6,8],9.2);
lolli({L:1790,T:1810,W:1730,H:575},{x0:1856,x1:3495,y0:1824,y1:2273},cnvReadGenes,cnvReadGain,cnvReadLoss,1923,25.08,10,[0,2,4,6,8,10],9.5);
T('CNV.frequency(%)',50,2034,{size:25,rot:-90,color:'#222'});
T('CNV.frequency(%)',1773,2034,{size:25,rot:-90,color:'#222'});
dot(832,1841,6.5,GAIN);T('GAIN',868,1841,{size:37,align:'left',sy:1.1});dot(1002,1841,6.5,LOSS);T('LOSS',1038,1841,{size:37,align:'left',sy:1.1});
dot(2555,1843,6.5,GAIN);T('GAIN',2590,1843,{size:37,align:'left',sy:1.1});dot(2725,1843,6.5,LOSS);T('LOSS',2761,1843,{size:37,align:'left',sy:1.1});

/* ---------- Panel D ---------- */
const VC={M:'#05F57A',F:'#1284B0',I:'#4B0E92',N:'#8E0F50',S:'#A8872A',In:'#A62C3A',D:'#F5F53A'};
const VR={M:'#05F57A',S:'#EEC9A5',N:'#B3C8F8'};
function onco(box,plot,genes,pct,nCols,layers,halves,cols){
  const rows=s=>s.flatMap((str,r)=>expand(str).map(c=>({x:[c,c+1],y:genes[r]})));
  const th=(plot.y1-plot.y0)/genes.length;
  const dsets=[];
  Object.keys(cols).forEach(k=>{const h=halves.filter(v=>v[3]===k);
    if(h.length)dsets.push({data:h.map(v=>({x:[v[1],v[1]+1],y:v[0]+v[2]})),yAxisID:'yh',backgroundColor:cols[k],barThickness:(th-2)/2,order:1,grouped:false});});
  layers.forEach(([s,k],i)=>dsets.push({data:rows(s),backgroundColor:cols[k],barThickness:th-2,order:k==='M'?5:3,grouped:false}));
  dsets.push({data:genes.map(g=>({x:[0,nCols],y:g})),backgroundColor:'#DEDEDE',barThickness:th-2,order:9,grouped:false});
  mk(box,{type:'bar',data:{labels:genes,datasets:dsets},options:{indexAxis:'y',
    layout:{padding:{top:plot.y0-box.T,bottom:box.T+box.H-plot.y1,left:0,right:0}},
    scales:{
      x:{type:'linear',min:0,max:nCols,display:true,position:'bottom',afterFit:fixH(0),
        afterBuildTicks:s=>{s.ticks=Array.from({length:nCols+1},(_,i)=>({value:i}));},
        grid:{display:true,z:1,color:'#fff',lineWidth:2,drawTicks:false},border:{display:false},ticks:{display:false,autoSkip:false}},
      y:{type:'category',offset:true,afterFit:fixW(plot.x0-box.L),grid:{display:false},border:{display:false},
        ticks:{autoSkip:false,padding:11,color:'#111',font:{family:SERIF,size:25}}},
      y2:{type:'category',labels:pct,offset:true,position:'right',afterFit:fixW(box.L+box.W-plot.x1),grid:{display:false},border:{display:false},
        ticks:{autoSkip:false,padding:10,color:'#111',font:{family:SERIF,size:25}}},
      yh:{type:'linear',display:false,min:-.5,max:genes.length-.5,reverse:true}
    }}});
}
function topBars(box,plot,n,series,ymax,yticks,barPct){
  const labels=Array.from({length:n},(_,i)=>String(i));
  mk(box,{type:'bar',data:{labels,datasets:series.map(([d,c])=>({data:d,backgroundColor:c,stack:'s',barPercentage:barPct,categoryPercentage:1}))},options:{
    layout:{padding:{top:plot.y0-box.T,right:box.L+box.W-plot.x1,left:0,bottom:box.T+box.H-plot.y1}},
    scales:{x:{stacked:true,display:false},
      y:{stacked:true,min:0,max:ymax,afterFit:fixW(plot.x0-box.L),
        afterBuildTicks:s=>{s.ticks=yticks.map(v=>({value:v}));},
        grid:{display:true,drawOnChartArea:false,tickLength:10,color:'#000',lineWidth:2},border:{color:'#000',width:2.5},
        ticks:{autoSkip:false,color:'#111',font:{family:SERIF,size:24},padding:2}}}}});
}
function sideBars(box,plot,genes,series,xmax,xticks){
  mk(box,{type:'bar',data:{labels:genes,datasets:series.map(([d,c])=>({data:d,backgroundColor:c,stack:'s',barThickness:22}))},options:{indexAxis:'y',
    layout:{padding:{bottom:box.T+box.H-plot.y1,right:box.L+box.W-plot.x1,left:plot.x0-box.L,top:0}},
    scales:{x:{position:'top',stacked:true,min:0,max:xmax,afterFit:fixH(plot.y0-box.T),
        afterBuildTicks:s=>{s.ticks=xticks.map(v=>({value:v}));},
        grid:{display:true,drawOnChartArea:false,tickLength:11,color:'#000',lineWidth:2},border:{color:'#000',width:2},
        ticks:{color:'#111',font:{family:SERIF,size:25},padding:4,maxRotation:0,minRotation:0}},
      y:{stacked:true,display:false,type:'category',offset:true}}}});
}
/* COAD */
onco({L:60,T:2530,W:1250,H:510},{x0:191,x1:1212,y0:2546,y1:3027},onCoadGenes,onCoadPct,147,
  [[coadInDel,'D'],[coadInIns,'In'],[coadSplice,'S'],[coadNonsense,'N'],[coadFSI,'I'],[coadFSD,'F'],[coadMissense,'M']],coadHalfCells,VC);
topBars({L:120,T:2430,W:1100,H:120},{x0:191,x1:1212,y0:2442.5,y1:2536},147,[
  [sparse(coadTopBottomN,147),VC.N],[sparse(coadTopBottomF,147),VC.F],[coadTopMissense,VC.M],[sparse(coadTopFSD,147),VC.F],
  [sparse(coadTopFSI,147),VC.I],[sparse(coadTopNonsense,147),VC.N],[sparse(coadTopSplice,147),VC.S],[sparse(coadTopInDel,147),VC.D]],21,[0,5,10,15,20],.72);
sideBars({L:1280,T:2500,W:215,H:540},{x0:1299,x1:1476.5,y0:2547,y1:3027},onCoadGenes,[
  [coadSideEarlyN,VC.N],[coadSideEarlyF,VC.F],[coadSideM,VC.M],[coadSideMidN,VC.N],[coadSideF,VC.F],[coadSideI,VC.I],[coadSideN,VC.N],[coadSideS,VC.S],[coadSideIn,VC.In],[coadSideD,VC.D]],51,[0,20,40]);
T('MutCount',43,2494,{size:24,family:SERIF,align:'left'});
[['Missense_Mutation',VC.M],['Frame_Shift_Del',VC.F],['Frame_Shift_Ins',VC.I],['Nonsense_Mutation',VC.N],['Splice_Site',VC.S],['In_Frame_Ins',VC.In],['In_Frame_Del',VC.D]].forEach(([t,c],i)=>{
  const y=[2455,2486,2517,2548,2578,2608,2639][i];dot(1519,y-1,12,c);T(t,1536,y+2,{size:24,family:SERIF,align:'left',color:'#111'});});
/* READ */
onco({L:1770,T:2530,W:1260,H:510},{x0:1904,x1:2936,y0:2546,y1:3027},onReadGenes,onReadPct,37,
  [[readNonsense,'N'],[readSplice,'S'],[readMissense,'M']],readHalfCells,VR);
topBars({L:1860,T:2430,W:1085,H:120},{x0:1904,x1:2936,y0:2443,y1:2536},37,[
  [readTopMissense,VR.M],[sparse(readTopNonsense,37),VR.N],[sparse(readTopSplice,37),VR.S]],25.4,[0,10,20],.92);
sideBars({L:3000,T:2500,W:215,H:540},{x0:3023,x1:3201,y0:2547,y1:3027},onReadGenes,[
  [readSideEarlyN,VR.N],[readSideM,VR.M],[readSideS,VR.S],[readSideN,VR.N]],10,[0,5,10]);
T('MutCount',1760,2494,{size:24,family:SERIF,align:'left'});
[['Missense_Mutation',VR.M],['Splice_Site',VR.S],['Nonsense_Mutation',VR.N]].forEach(([t,c],i)=>{
  const y=[2455,2486,2517][i];dot(3244,y-1,12,c);T(t,3261,y+2,{size:24,family:SERIF,align:'left',color:'#111'});});

/* ---------- Titles ---------- */
T('A',65,54,{size:74,weight:'bold'});T('B',66,906,{size:70,weight:'bold'});T('C',65,1848,{size:74,weight:'bold'});T('D',58,2408,{size:71,weight:'bold'});
T('COAD',471,1808,{size:72,weight:'bold'});T('READ',3032,1808,{size:72,weight:'bold'});
T('COAD',854,3072,{size:87,weight:'bold'});T('READ',2629,3072,{size:87,weight:'bold'});
</script></body></html>
